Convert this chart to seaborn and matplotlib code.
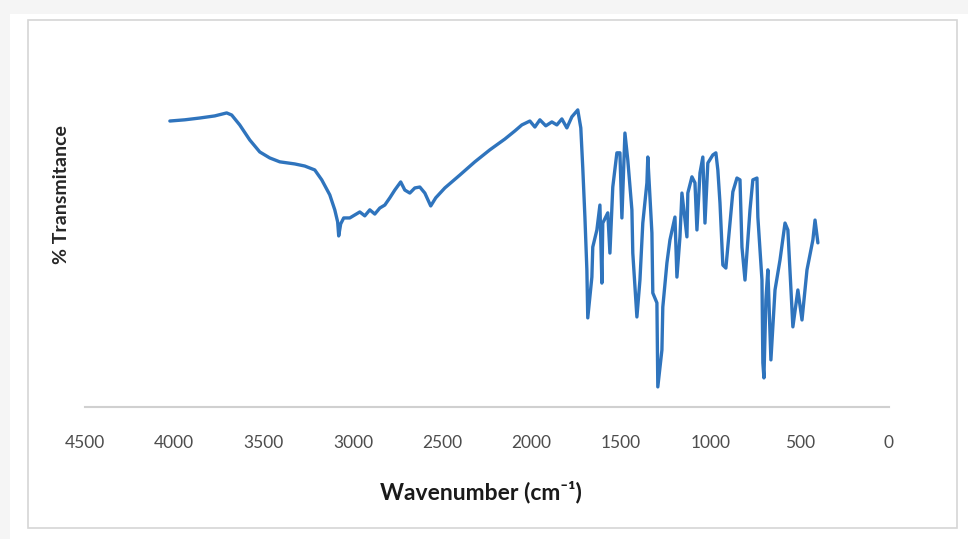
import matplotlib
matplotlib.use("Agg")
import matplotlib.pyplot as plt
import seaborn as sns
import pandas as pd
from matplotlib.patches import Rectangle

# ---- data (wavenumber in cm-1, % transmittance) ----
wavenumber = [4025, 3942, 3858, 3774, 3707, 3679, 3634, 3578, 3522, 3466,
              3410, 3326, 3270, 3214, 3175, 3130, 3102, 3086, 3080, 3069,
              3052, 3018, 2990, 2962, 2934, 2906, 2878, 2850, 2822, 2794,
              2766, 2733, 2710, 2682, 2654, 2626, 2598, 2565, 2537, 2486,
              2402, 2318, 2234, 2150, 2094, 2055, 2010, 1982, 1954, 1921,
              1887, 1859, 1831, 1803, 1775, 1742, 1725, 1714, 1702, 1691,
              1686, 1663, 1658, 1635, 1618, 1607, 1602, 1574, 1562, 1546,
              1523, 1506, 1495, 1478, 1462, 1439, 1434, 1411, 1394, 1378,
              1355, 1350, 1327, 1322, 1299, 1294, 1271, 1266, 1243, 1226,
              1198, 1187, 1170, 1159, 1131, 1126, 1103, 1086, 1075, 1058,
              1042, 1030, 1014, 986, 969, 958, 946, 930, 913, 890,
              874, 851, 834, 823, 806, 778, 762, 739, 734, 711,
              706, 700, 689, 678, 661, 638, 610, 582, 566, 538,
              510, 487, 459, 426, 414, 398]
transmittance = [95.3, 95.7, 96.3, 97.0, 98.0, 97.3, 94.0, 89.0, 85.0, 83.0,
                 81.7, 81.0, 80.3, 79.0, 75.7, 70.7, 65.7, 61.7, 57.0, 61.0,
                 63.0, 63.0, 64.0, 65.0, 63.7, 65.7, 64.3, 66.3, 67.3, 69.7,
                 72.3, 75.0, 72.3, 71.3, 73.0, 73.3, 71.3, 67.0, 69.7, 73.0,
                 77.3, 81.7, 85.7, 89.3, 92.0, 94.0, 95.3, 93.3, 95.7, 93.7,
                 95.0, 94.0, 96.0, 93.0, 96.7, 99.0, 93.0, 79.7, 63.3, 45.7,
                 29.7, 43.3, 53.3, 59.0, 67.3, 41.3, 61.3, 64.7, 51.3, 73.3,
                 84.7, 84.7, 63.0, 91.3, 82.3, 65.7, 51.3, 30.0, 42.3, 61.3,
                 74.7, 83.3, 58.0, 38.0, 34.7, 6.7, 19.0, 33.3, 48.0, 55.7,
                 63.3, 43.3, 56.7, 71.3, 56.7, 71.3, 76.7, 74.7, 59.0, 78.0,
                 83.3, 61.3, 81.3, 84.0, 84.7, 79.0, 68.0, 47.3, 46.3, 61.3,
                 71.7, 76.3, 75.7, 53.3, 42.3, 65.7, 75.7, 76.3, 63.3, 42.3,
                 14.7, 9.7, 35.7, 45.7, 15.7, 39.0, 49.0, 61.3, 59.0, 26.7,
                 39.0, 29.0, 45.7, 55.7, 62.3, 54.7]
x_ticks = [4500, 4000, 3500, 3000, 2500, 2000, 1500, 1000, 500, 0]
x_label = "Wavenumber (cm\u207b\u00b9)"
y_label = "% Transmitance"

df = pd.DataFrame({"Wavenumber": wavenumber, "Transmittance": transmittance})

sns.set_style("white")
plt.rcParams["font.family"] = ["Lato", "DejaVu Sans"]

W, H = 968, 539
fig = plt.figure(figsize=(W / 100, H / 100), dpi=100, facecolor="#f5f5f5")

# white card and light frame
fig.patches.append(Rectangle((10 / W, 0), 1 - 10 / W, 1 - 14 / H,
                             transform=fig.transFigure, facecolor="white",
                             edgecolor="none", zorder=-2))
fig.patches.append(Rectangle((28 / W, 1 - 528 / H), (957 - 28) / W, (528 - 20) / H,
                             transform=fig.transFigure, facecolor="none",
                             edgecolor="#d6d6d6", linewidth=1.2, zorder=-1))

ax = fig.add_axes([85 / W, 1 - 407 / H, (889 - 85) / W, (407 - 40) / H])
ax.set_facecolor("none")

sns.lineplot(data=df, x="Wavenumber", y="Transmittance", ax=ax,
             color="#2f74bd", linewidth=2.4, estimator=None, sort=False)

ax.set_xlim(4500, 0)
ax.set_ylim(0, 122.3)
ax.set_xticks(x_ticks)
ax.set_xticklabels([str(t) for t in x_ticks], fontsize=12.5, color="#4d4d4d")
ax.set_yticks([])
ax.tick_params(axis="x", length=0, pad=20)
for s in ["top", "right", "left"]:
    ax.spines[s].set_visible(False)
ax.spines["bottom"].set_color("#d0d0d0")
ax.spines["bottom"].set_linewidth(1.5)
ax.set_xlabel("")
ax.set_ylabel("")

fig.text(481 / W, 1 - 492 / H, x_label, ha="center", va="center",
         fontsize=16.5, fontweight="bold", color="#1a1a1a")
fig.text(62 / W, 1 - 195 / H, y_label, ha="center", va="center",
         rotation=90, fontsize=14, fontweight="bold", color="#262626")

fig.savefig("out.png", dpi=100, facecolor=fig.get_facecolor())
